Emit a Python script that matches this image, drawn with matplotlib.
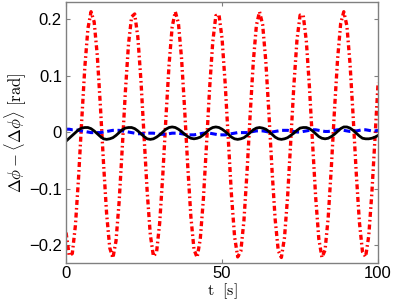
import numpy as np
import matplotlib
matplotlib.use('Agg')
import matplotlib.pyplot as plt

# time axis [s]
t = np.arange(0, 101, 1)

# phase deviation (rad)
red_dphi = [-0.178, -0.219, -0.215, -0.165, -0.081, 0.019, 0.114, 0.183, 0.213, 0.195,
            0.136, 0.046, -0.055, -0.145, -0.205, -0.223, -0.193, -0.124, -0.029, 0.071,
            0.155, 0.204, 0.209, 0.168, 0.091, -0.008, -0.106, -0.182, -0.220, -0.213,
            -0.161, -0.076, 0.025, 0.119, 0.186, 0.213, 0.193, 0.131, 0.040, -0.061,
            -0.150, -0.208, -0.222, -0.190, -0.119, -0.023, 0.077, 0.159, 0.206, 0.208,
            0.165, 0.085, -0.014, -0.111, -0.185, -0.221, -0.211, -0.157, -0.070, 0.031,
            0.124, 0.189, 0.213, 0.190, 0.126, 0.034, -0.067, -0.154, -0.210, -0.222,
            -0.187, -0.114, -0.017, 0.082, 0.163, 0.207, 0.207, 0.161, 0.079, -0.020,
            -0.116, -0.189, -0.222, -0.209, -0.152, -0.064, 0.037, 0.128, 0.192, 0.213,
            0.188, 0.121, 0.028, -0.073, -0.159, -0.212, -0.221, -0.184, -0.108, -0.011,
            0.088]

blue_dphi = [0.005, 0.005, 0.004, 0.004, 0.003, 0.002, 0.001, 0.000, -0.001, -0.001,
             -0.001, -0.001, 0.000, 0.001, 0.002, 0.003, 0.003, 0.003, 0.002, 0.001,
             0.000, -0.001, -0.002, -0.003, -0.003, -0.003, -0.002, -0.002, -0.002, -0.003,
             -0.004, -0.004, -0.004, -0.003, -0.002, -0.002, -0.002, -0.003, -0.004, -0.005,
             -0.005, -0.005, -0.004, -0.003, -0.002, -0.002, -0.002, -0.003, -0.004, -0.005,
             -0.005, -0.005, -0.004, -0.003, -0.002, -0.001, -0.001, -0.001, -0.001, 0.000,
             0.001, 0.002, 0.002, 0.002, 0.001, 0.000, 0.000, 0.001, 0.002, 0.003,
             0.003, 0.003, 0.002, 0.001, 0.000, 0.000, 0.001, 0.002, 0.003, 0.004,
             0.004, 0.003, 0.002, 0.001, 0.001, 0.002, 0.003, 0.004, 0.004, 0.003,
             0.002, 0.001, 0.001, 0.002, 0.003, 0.004, 0.004, 0.003, 0.002, 0.002,
             0.003]

black_dphi = [-0.016, -0.011, -0.006, -0.001, 0.004, 0.007, 0.008, 0.008, 0.006, 0.002,
              -0.003, -0.008, -0.012, -0.013, -0.012, -0.010, -0.006, -0.001, 0.004, 0.007,
              0.008, 0.008, 0.006, 0.002, -0.003, -0.008, -0.012, -0.013, -0.012, -0.009,
              -0.005, 0.000, 0.005, 0.008, 0.009, 0.008, 0.005, 0.001, -0.004, -0.008,
              -0.011, -0.012, -0.011, -0.009, -0.005, 0.000, 0.005, 0.008, 0.009, 0.008,
              0.005, 0.001, -0.004, -0.009, -0.012, -0.013, -0.012, -0.010, -0.006, -0.001,
              0.004, 0.007, 0.008, 0.007, 0.005, 0.001, -0.004, -0.009, -0.012, -0.013,
              -0.012, -0.010, -0.006, -0.002, 0.003, 0.007, 0.008, 0.008, 0.006, 0.002,
              -0.003, -0.008, -0.011, -0.012, -0.011, -0.008, -0.004, 0.001, 0.006, 0.009,
              0.009, 0.007, 0.003, -0.002, -0.007, -0.011, -0.012, -0.012, -0.011, -0.009,
              -0.006]

xticks = [0, 50, 100]
yticks = [-0.2, -0.1, 0, 0.1, 0.2]
ytick_labels = ['\u22120.2', '\u22120.1', '0', '0.1', '0.2']

plt.rcParams['mathtext.fontset'] = 'cm'
plt.rcParams['font.family'] = ['Liberation Sans', 'DejaVu Sans']

fig = plt.figure(figsize=(3.98, 3.0), dpi=100)
ax = fig.add_axes([0.166, 0.123, 0.784, 0.870])

ax.plot(t, red_dphi, color='#ff0000', linewidth=2.4, linestyle=(0, (1.5, 0.9, 0.5, 0.9)))
ax.plot(t, blue_dphi, color='#0000ff', linewidth=2.2, linestyle=(0, (2.2, 1.2)))
ax.plot(t, black_dphi, color='black', linewidth=2.0)

ax.set_xlim(0, 100)
ax.set_ylim(-0.232, 0.230)
ax.set_xticks(xticks)
ax.set_yticks(yticks)
ax.set_yticklabels(ytick_labels)
ax.tick_params(direction='in', length=3, width=0.8, color='0.5', labelsize=12,
               top=True, right=True, pad=3)
ax.tick_params(axis='x', pad=2)
for s in ax.spines.values():
    s.set_color('0.5')
    s.set_linewidth(1.0)

ax.set_xlabel(r'$\mathrm{t}\ \ [\mathrm{s}]$', fontsize=11.5, labelpad=0)
ax.set_ylabel(r'$\Delta\phi - \langle\Delta\phi\rangle\ [\mathrm{rad}]$', fontsize=12, labelpad=1)

fig.savefig('out.png', dpi=100)
